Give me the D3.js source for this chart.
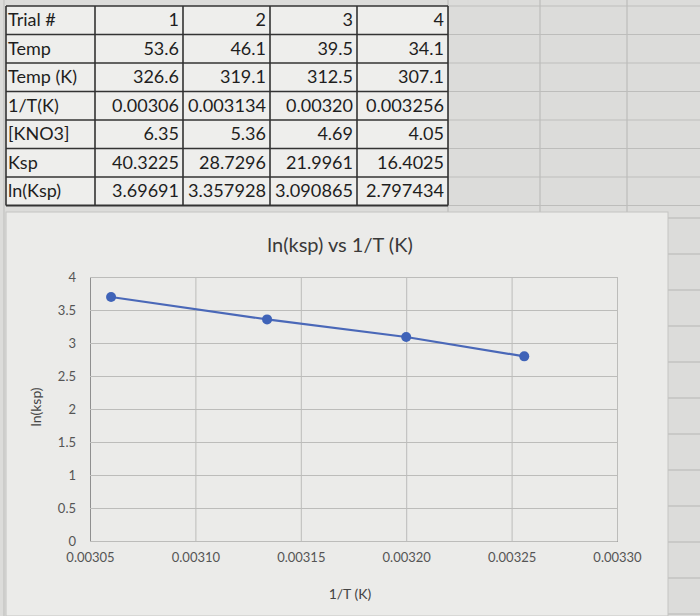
<!DOCTYPE html>
<html><head><meta charset="utf-8">
<script src="https://cdn.jsdelivr.net/npm/d3@7"></script>
<style>body{margin:0;background:#d9d9d7;} svg{display:block;}</style>
</head><body>
<svg id="c" width="700" height="616"></svg>
<script>
// ---- data ----
const rowLabels = ["Trial #","Temp","Temp (K)","1/T(K)","[KNO3]","Ksp","ln(Ksp)"];
const trial   = ["1","2","3","4"];
const temp    = ["53.6","46.1","39.5","34.1"];
const tempK   = ["326.6","319.1","312.5","307.1"];
const invTtxt = ["0.00306","0.003134","0.00320","0.003256"];
const kno3    = ["6.35","5.36","4.69","4.05"];
const ksp     = ["40.3225","28.7296","21.9961","16.4025"];
const lnKspTx = ["3.69691","3.357928","3.090865","2.797434"];
const invT  = [0.00306, 0.003134, 0.00320, 0.003256];
const lnKsp = [3.69691, 3.357928, 3.090865, 2.797434];
const xTicks = [0.00305,0.00310,0.00315,0.00320,0.00325,0.00330];
const yTicks = [0,0.5,1,1.5,2,2.5,3,3.5,4];
const chartTitle = "ln(ksp) vs 1/T (K)";
const xTitle = "1/T (K)";
const yTitle = "ln(ksp)";

const svg = d3.select("#c");
const font = "Lato, 'Open Sans', sans-serif";

// background spreadsheet grid
const bg = svg.append("g");
bg.append("rect").attr("width",700).attr("height",616).attr("fill","#dcdcda");
const gridCols = [448, 540, 627];
gridCols.forEach(x => bg.append("line").attr("x1",x).attr("x2",x).attr("y1",0).attr("y2",212)
  .attr("stroke","#bdbdbb").attr("stroke-width",1.2));
d3.range(0,212,28.5).forEach(y => bg.append("line").attr("x1",448).attr("x2",700).attr("y1",y+6).attr("y2",y+6)
  .attr("stroke","#bdbdbb").attr("stroke-width",1.2));
d3.range(218,616,36).forEach(y => bg.append("line").attr("x1",668).attr("x2",700).attr("y1",y).attr("y2",y)
  .attr("stroke","#bdbdbb").attr("stroke-width",1.2));
bg.append("line").attr("x1",4).attr("x2",4).attr("y1",0).attr("y2",616).attr("stroke","#bdbdbb");

// ---- table ----
const tableRows = [trial,temp,tempK,invTtxt,kno3,ksp,lnKspTx];
const colX = [6, 95, 183, 270, 357, 448];
const rowTop = 6, rowH = 28.5;
const tg = svg.append("g");
tg.append("rect").attr("x",colX[0]).attr("y",rowTop).attr("width",colX[5]-colX[0]).attr("height",rowH*7)
  .attr("fill","#eeeeec");
tableRows.forEach((r,i) => {
  const y = rowTop + i*rowH;
  tg.append("line").attr("x1",colX[0]).attr("x2",colX[5]).attr("y1",y).attr("y2",y)
    .attr("stroke","#333").attr("stroke-width",1.6);
  tg.append("text").attr("x",colX[0]+2).attr("y",y+rowH/2+6).text(rowLabels[i])
    .attr("font-family",font).attr("font-size",18).attr("fill","#1e1e1e");
  r.forEach((v,j) => {
    tg.append("text").attr("x",colX[j+2]-4).attr("y",y+rowH/2+6).attr("text-anchor","end").text(v)
      .attr("font-family",font).attr("font-size",18).attr("fill","#1e1e1e")
      .attr("textLength", v.length > 7 ? 78 : null).attr("lengthAdjust","spacingAndGlyphs");
  });
});
tg.append("line").attr("x1",colX[0]).attr("x2",colX[5]).attr("y1",rowTop+7*rowH).attr("y2",rowTop+7*rowH)
  .attr("stroke","#333").attr("stroke-width",1.8);
colX.forEach(x => tg.append("line").attr("x1",x).attr("x2",x).attr("y1",rowTop).attr("y2",rowTop+7*rowH)
  .attr("stroke","#333").attr("stroke-width",1.6));

// ---- chart ----
const cg = svg.append("g");
cg.append("rect").attr("x",6).attr("y",212).attr("width",662).attr("height",404)
  .attr("fill","#ebebe9").attr("stroke","#c4c4c2");

const m = {l:90, r:617, t:277, b:541};
const x = d3.scaleLinear().domain([xTicks[0], xTicks[xTicks.length-1]]).range([m.l, m.r]);
const y = d3.scaleLinear().domain([0,4]).range([m.b, m.t]);

cg.append("text").attr("x",340).attr("y",252).attr("text-anchor","middle").text(chartTitle)
  .attr("font-family",font).attr("font-size",20).attr("fill","#3a3a3a");

const xg = cg.append("g").attr("transform",`translate(0,${m.b})`)
  .call(d3.axisBottom(x).tickValues(xTicks).tickSize(-(m.b-m.t)).tickFormat(d3.format(".5f")));
xg.select(".domain").attr("stroke","#8f8f8f");
xg.selectAll(".tick line").attr("stroke","#bcbcba");
xg.selectAll(".tick text").attr("dy","1.35em").attr("font-family",font).attr("font-size",13).attr("fill","#555");

const yg = cg.append("g").attr("transform",`translate(${m.l},0)`)
  .call(d3.axisLeft(y).tickValues(yTicks).tickSize(-(m.r-m.l)).tickFormat(d3.format("~g")));
yg.select(".domain").attr("stroke","#8f8f8f");
yg.selectAll(".tick line").attr("stroke","#bcbcba");
yg.selectAll(".tick text").attr("x",-14).attr("font-family",font).attr("font-size",13).attr("fill","#555");

cg.append("text").attr("x",350).attr("y",599).attr("text-anchor","middle").text(xTitle)
  .attr("font-family",font).attr("font-size",14).attr("fill","#444");
cg.append("text").attr("transform","translate(41,407) rotate(-90)").attr("text-anchor","middle").text(yTitle)
  .attr("font-family",font).attr("font-size",14).attr("fill","#444");

const pts = invT.map((v,i)=>[v, lnKsp[i]]);
cg.append("path").datum(pts).attr("fill","none").attr("stroke","#4a68b8").attr("stroke-width",2.2)
  .attr("d", d3.line().x(d=>x(d[0])).y(d=>y(d[1])));
cg.selectAll("circle.p").data(pts).join("circle").attr("cx",d=>x(d[0])).attr("cy",d=>y(d[1]))
  .attr("r",5).attr("fill","#3f63b8");
</script>
</body></html>
